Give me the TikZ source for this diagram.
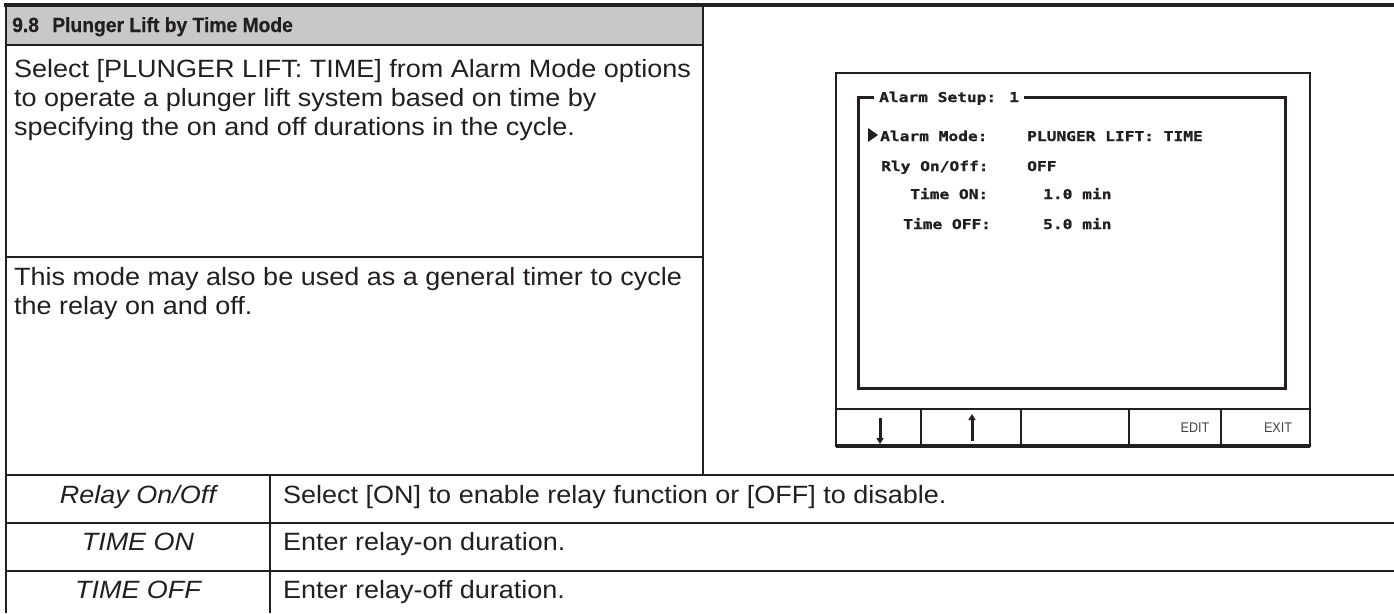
\documentclass[tikz,border=0pt]{standalone}
\usepackage{fontspec}
\setmainfont{Liberation Sans}[FakeStretch=1.08]
\newfontfamily\hdrfont{Liberation Sans Bold}[FakeStretch=0.94, FakeBold=0.6]
\newfontfamily\scrfont{DejaVu Sans Mono Bold}[FakeStretch=1.2, FakeBold=1.2]
\newfontfamily\btnfont{Liberation Sans}[FakeStretch=0.9]
\usetikzlibrary{arrows.meta}
\definecolor{ink}{HTML}{231F20}
\definecolor{hdr}{HTML}{C8C8C8}
\tikzset{
  rule/.style={draw=ink, line width=2.6pt},
  toprule/.style={draw=ink, line width=3.4pt},
  body/.style={anchor=base west, inner sep=0pt, text=ink, font=\fontsize{25}{29}\selectfont},
  term/.style={anchor=base, inner sep=0pt, text=ink, font=\fontsize{25}{29}\selectfont\itshape},
  head/.style={anchor=base west, inner sep=0pt, text=ink, font=\fontsize{20.5}{23}\hdrfont},
  scr/.style={anchor=base west, inner sep=0pt, text=ink, font=\fontsize{13.5}{15}\scrfont},
  frame/.style={draw=ink, line width=2.6pt},
  btn/.style={inner sep=0pt, text=ink!85, font=\fontsize{14}{15}\btnfont},
  keyarrow/.style={draw=ink, line width=3pt, -{Triangle[length=6pt,width=7pt]}}
}
\begin{document}
\begin{tikzpicture}[x=1pt,y=-1pt]
\useasboundingbox (0,0) rectangle (1394,613);
% header band
\fill[hdr] (6,5) rectangle (703,45);
% table rules
\draw[toprule] (4.3,5) -- (1394,5);
\draw[rule] (6,45) -- (703,45);
\draw[rule] (6,257) -- (703,257);
\draw[rule] (6,475) -- (1394,475);
\draw[rule] (6,523) -- (1394,523);
\draw[rule] (6,571) -- (1394,571);
\draw[rule] (6,5) -- (6,613);
\draw[rule] (703,5) -- (703,475);
\draw[rule] (270,475) -- (270,613);
% header text
\node[head] (title) at (12,32) {9.8\hspace{0.65em}Plunger Lift by Time Mode};
% paragraph 1
\node[body] (p1a) at (14,77) {Select [PLUNGER LIFT: TIME] from Alarm Mode options};
\node[body] (p1b) at (14,106) {to operate a plunger lift system based on time by};
\node[body] (p1c) at (14,135) {specifying the on and off durations in the cycle.};
% paragraph 2
\node[body] (p2a) at (14,285) {This mode may also be used as a general timer to cycle};
\node[body] (p2b) at (14,314) {the relay on and off.};
% lower table
\node[term] (t1) at (138,503) {Relay On/Off};
\node[body] (d1) at (283,503) {Select [ON] to enable relay function or [OFF] to disable.};
\node[term] (t2) at (138,550) {TIME ON};
\node[body] (d2) at (283,550) {Enter relay-on duration.};
\node[term] (t3) at (138,598) {TIME OFF};
\node[body] (d3) at (283,598) {Enter relay-off duration.};
% screen
\draw[frame] (836,73) rectangle (1310,446);
\draw[draw=ink, line width=3pt] (858,97) rectangle (1285,388);
\node[scr, fill=white, inner xsep=5pt, inner ysep=3pt] (stitle) at (874,102) {Alarm Setup: 1};
\fill[ink] (868,128) -- (878,135) -- (868,142) -- cycle;
\node[scr] (l1) at (880,141) {Alarm Mode:};
\node[scr] (v1) at (1027,141) {PLUNGER LIFT: TIME};
\node[scr] (l2) at (881,171) {Rly On/Off:};
\node[scr] (v2) at (1027,171) {OFF};
\node[scr] (l3) at (910,199) {Time ON:};
\node[scr] (v3) at (1043,199) {1.0 min};
\node[scr] (l4) at (903,229) {Time OFF:};
\node[scr] (v4) at (1043,229) {5.0 min};
% button bar
\draw[frame] (836,409) -- (1310,409);
\draw[draw=ink, line width=3.4pt] (836,446) -- (1310,446);
\foreach \bx in {921,1021,1129,1221} \draw[frame] (\bx,409) -- (\bx,446);
\coordinate (dA) at (880,418); \coordinate (dB) at (880,444);
\coordinate (uA) at (972,441); \coordinate (uB) at (972,414);
\draw[keyarrow] (dA) -- (dB);
\draw[keyarrow] (uA) -- (uB);
\node[btn] (edit) at (1195,428) {EDIT};
\node[btn] (exit) at (1278,428) {EXIT};
\end{tikzpicture}
\end{document}
